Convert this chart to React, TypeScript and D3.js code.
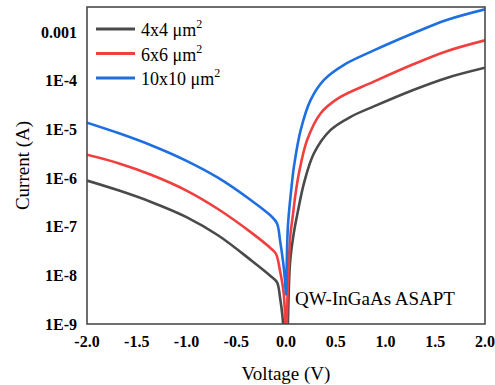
import React from "react";
import * as d3 from "d3";

const xTicks = [-2.0, -1.5, -1.0, -0.5, 0.0, 0.5, 1.0, 1.5, 2.0];
const yTicks = [1e-9, 1e-8, 1e-7, 1e-6, 1e-5, 1e-4, 1e-3];
const yTickLabels = ["1E-9", "1E-8", "1E-7", "1E-6", "1E-5", "1E-4", "0.001"];

const seriesNames = ["4x4 μm", "6x6 μm", "10x10 μm"];
const seriesColors = ["#4a4a4a", "#f03f3f", "#1e6fe0"];

const vBlack = [-2.0, -1.685, -1.35, -1.0, -0.68, -0.345, -0.15, -0.09, -0.06, -0.035, -0.015, 0.0, 0.015, 0.04, 0.073, 0.118, 0.181, 0.281, 0.449, 0.65, 0.877, 1.279, 1.615, 2.0];
const iBlack = [8.9e-7, 5.6e-7, 3.2e-7, 1.58e-7, 6.6e-8, 2.0e-8, 9.5e-9, 7.2e-9, 3.5e-9, 1.4e-9, 3e-10, 1e-10, 5e-10, 1.74e-8, 6.3e-8, 2.0e-7, 7.9e-7, 3.24e-6, 9.8e-6, 1.82e-5, 2.95e-5, 6.5e-5, 1.15e-4, 1.86e-4];

const vRed = [-2.0, -1.685, -1.35, -1.0, -0.68, -0.345, -0.15, -0.1, -0.06, -0.027, -0.01, 0.0, 0.01, 0.025, 0.045, 0.063, 0.097, 0.131, 0.214, 0.349, 0.516, 0.877, 1.279, 1.615, 2.0];
const iRed = [3.02e-6, 2.03e-6, 1.16e-6, 5.55e-7, 2.29e-7, 7.48e-8, 3.55e-8, 2.75e-8, 1.23e-8, 5.0e-9, 1.6e-9, 1e-10, 1.6e-9, 1.26e-8, 7.1e-8, 1.38e-7, 4.9e-7, 1.29e-6, 6.2e-6, 2.16e-5, 4.27e-5, 9.5e-5, 2.19e-4, 4.07e-4, 6.8e-4];

const vBlue = [-2.0, -1.685, -1.35, -1.0, -0.68, -0.345, -0.15, -0.09, -0.06, -0.027, -0.01, 0.0, 0.006, 0.02, 0.063, 0.08, 0.148, 0.248, 0.382, 0.583, 0.877, 1.279, 1.615, 2.0];
const iBlue = [1.38e-5, 8.43e-6, 4.69e-6, 2.27e-6, 1.01e-6, 3.43e-7, 1.66e-7, 1.17e-7, 5.25e-8, 1.74e-8, 7.9e-9, 4.0e-9, 1.26e-8, 1.1e-7, 9.1e-7, 1.74e-6, 9.8e-6, 4.07e-5, 1.05e-4, 2.14e-4, 4.17e-4, 9.5e-4, 1.78e-3, 2.95e-3];

const W = 495;
const H = 385;
const left = 87;
const right = 485;
const top = 7;
const bottom = 324;

export default function App() {
  const x = d3.scaleLinear().domain([-2, 2]).range([left, right]);
  const y = d3.scaleLog().domain([1e-9, 3.3e-3]).range([bottom, top]);
  const line = d3
    .line<[number, number]>()
    .x((d) => x(d[0]))
    .y((d) => y(d[1]))
    .curve(d3.curveCatmullRom.alpha(0.5));

  const series = [
    { v: vBlack, i: iBlack },
    { v: vRed, i: iRed },
    { v: vBlue, i: iBlue },
  ];

  const serif = "'Liberation Serif', 'Times New Roman', serif";

  return (
    <svg
      width={W}
      height={H}
      style={{ position: "absolute", left: 0, top: 0, background: "#fff" }}
      fontFamily={serif}
    >
      <defs>
        <clipPath id="plotclip">
          <rect x={left} y={top} width={right - left} height={bottom - top} />
        </clipPath>
      </defs>
      <g clipPath="url(#plotclip)">
        {series.map((s, k) => (
          <path
            key={k}
            d={line(s.v.map((v, j) => [v, s.i[j]] as [number, number])) || ""}
            fill="none"
            stroke={seriesColors[k]}
            strokeWidth={2.6}
            strokeLinejoin="round"
          />
        ))}
      </g>
      <rect
        x={left}
        y={top}
        width={right - left}
        height={bottom - top}
        fill="none"
        stroke="#4a4a4a"
        strokeWidth={1.6}
      />
      {yTicks.map((t, k) => (
        <text
          key={k}
          x={77}
          y={y(t)}
          dy="0.35em"
          textAnchor="end"
          fontWeight="bold"
          fontSize={16}
          fill="#000"
        >
          {yTickLabels[k]}
        </text>
      ))}
      {xTicks.map((t, k) => (
        <text
          key={k}
          x={x(t)}
          y={347}
          textAnchor="middle"
          fontWeight="bold"
          fontSize={16}
          fill="#000"
        >
          {t.toFixed(1)}
        </text>
      ))}
      <text x={x(0)} y={380} textAnchor="middle" fontSize={19} fill="#000">
        Voltage (V)
      </text>
      <text
        transform={`translate(29, ${(top + bottom) / 2}) rotate(-90)`}
        textAnchor="middle"
        fontSize={19}
        fill="#000"
      >
        Current (A)
      </text>
      {seriesNames.map((n, k) => {
        const ly = 29 + k * 24.5;
        return (
          <g key={k}>
            <line x1={96} x2={135} y1={ly} y2={ly} stroke={seriesColors[k]} strokeWidth={3} />
            <text x={141} y={ly + 7} fontSize={18} fill="#000">
              {n}
              <tspan fontSize={12} dy={-8}>2</tspan>
            </text>
          </g>
        );
      })}
      <text x={295} y={305} fontSize={19} fill="#000">
        QW-InGaAs ASAPT
      </text>
    </svg>
  );
}
